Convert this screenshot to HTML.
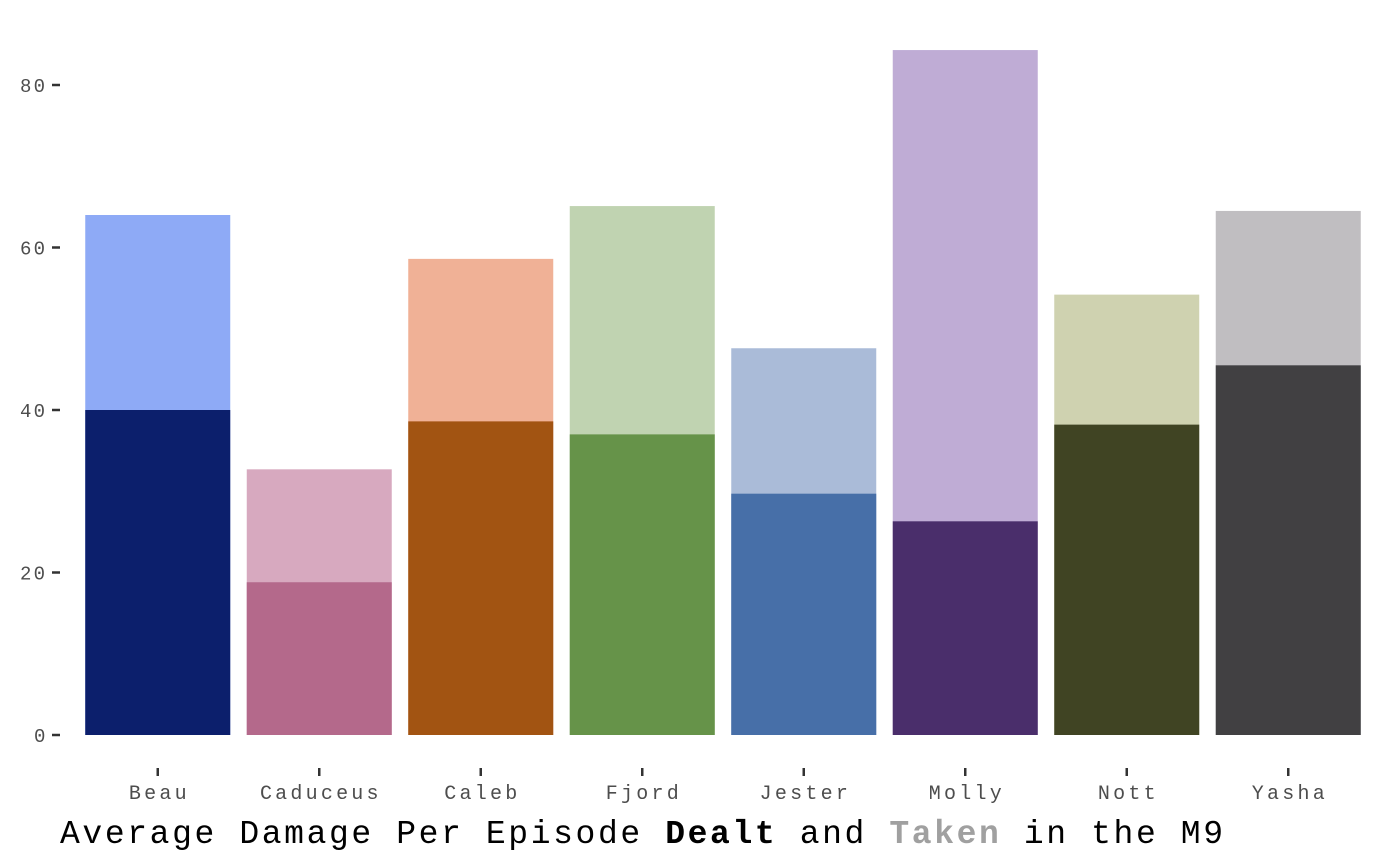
<!DOCTYPE html>
<html><head><meta charset="utf-8"><style>
body{margin:0;background:#fff;width:1400px;height:865px;overflow:hidden}
svg{display:block}
text{font-family:"Liberation Mono",monospace}
</style></head><body>
<svg id="chart" width="1400" height="865">
<g id="bars"></g>
<g id="yaxis"></g>
<g id="xaxis"></g>
<text x="60" y="843" font-size="33" fill="#000" textLength="1163" lengthAdjust="spacing">Average Damage Per Episode <tspan font-weight="bold">Dealt</tspan> and <tspan font-weight="bold" fill="#a0a0a0">Taken</tspan> in the M9</text>
</svg>
<script>
const categories=["Beau","Caduceus","Caleb","Fjord","Jester","Molly","Nott","Yasha"];
const totalValues=[64.0,32.7,58.6,65.1,47.6,84.3,54.2,64.5];
const dealtValues=[40.0,18.8,38.6,37.0,29.7,26.3,38.2,45.5];
const lightColors=["#8eaaf6","#d7a9bf","#f0b196","#c0d3b1","#aabbd8","#bfacd5","#cfd2b0","#c0bec1"];
const darkColors=["#0c1f6c","#b4698b","#a25412","#669349","#476fa8","#4a2e6b","#404423","#414042"];
const yTicks=[0,20,40,60,80];
const NS="http://www.w3.org/2000/svg";
const y0=735,pxPerUnit=8.125;
function yScale(v){return y0-v*pxPerUnit;}
const x0=77,step=161.5,bw=145;
function xCenter(i){return x0+step*(i+0.5);}
const bars=document.getElementById('bars');
function rect(x,y,w,h,fill,name){const r=document.createElementNS(NS,'rect');r.setAttribute('x',x);r.setAttribute('y',y);r.setAttribute('width',w);r.setAttribute('height',h);r.setAttribute('fill',fill);


bars.appendChild(r);}
categories.forEach((c,i)=>{
  const cx=xCenter(i);
  rect(cx-bw/2,yScale(totalValues[i]),bw,y0-yScale(totalValues[i]),lightColors[i],'bar-taken-'+c.toLowerCase());
  rect(cx-bw/2,yScale(dealtValues[i]),bw,y0-yScale(dealtValues[i]),darkColors[i],'bar-dealt-'+c.toLowerCase());
});
const ya=document.getElementById('yaxis');
yTicks.forEach(t=>{
  const y=yScale(t);
  const l=document.createElementNS(NS,'line');l.setAttribute('x1',52);l.setAttribute('x2',60);l.setAttribute('y1',y);l.setAttribute('y2',y);l.setAttribute('stroke','#333');l.setAttribute('stroke-width',2.5);
  
  
  ya.appendChild(l);
  const s=String(t);
  const w=s.length*14-3;
  const tx=document.createElementNS(NS,'text');tx.setAttribute('x',45-w);tx.setAttribute('y',y+7);tx.setAttribute('font-size','19');tx.setAttribute('fill','#4d4d4d');
  tx.setAttribute('textLength',w);tx.setAttribute('lengthAdjust','spacing');tx.textContent=s;
  
  
  ya.appendChild(tx);
});
const xa=document.getElementById('xaxis');
categories.forEach((c,i)=>{
  const cx=xCenter(i);
  const l=document.createElementNS(NS,'line');l.setAttribute('x1',cx);l.setAttribute('x2',cx);l.setAttribute('y1',768);l.setAttribute('y2',776);l.setAttribute('stroke','#333');l.setAttribute('stroke-width',2.5);
  
  
  xa.appendChild(l);
  const w=c.length*15.2-3;
  const tx=document.createElementNS(NS,'text');tx.setAttribute('x',cx-w/2);tx.setAttribute('y',799);tx.setAttribute('font-size','20');tx.setAttribute('fill','#4d4d4d');
  tx.setAttribute('textLength',w);tx.setAttribute('lengthAdjust','spacing');tx.textContent=c;
  
  
  xa.appendChild(tx);
});
</script>
</body></html>
